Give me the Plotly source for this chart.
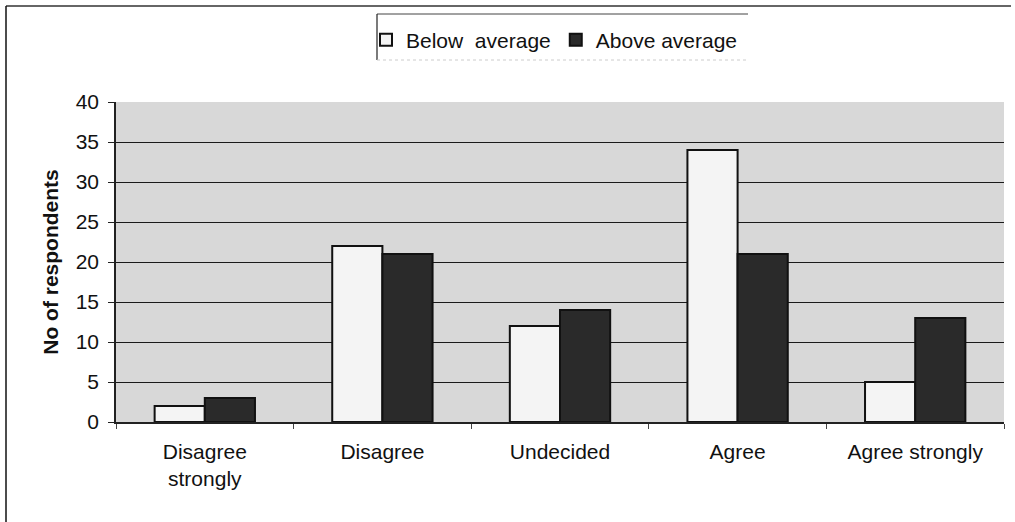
import plotly.graph_objects as go

# Survey responses grouped by attainment level
categories = ["Disagree<br>strongly", "Disagree", "Undecided", "Agree", "Agree strongly"]
below_average = [2, 22, 12, 34, 5]
above_average = [3, 21, 14, 21, 13]
y_ticks = [0, 5, 10, 15, 20, 25, 30, 35, 40]

FONT = "Liberation Sans, Arial, sans-serif"
FS = 21

fig = go.Figure()
fig.add_trace(go.Bar(
    x=categories, y=below_average, name="Below  average",
    marker=dict(color="#f4f4f4", line=dict(color="#111111", width=2)),
))
fig.add_trace(go.Bar(
    x=categories, y=above_average, name="Above average",
    marker=dict(color="#2a2a2a", line=dict(color="#111111", width=2)),
))

W, H = 1015, 522
L, R, T, B = 116, 11, 102, 100
pw, ph = W - L - R, H - T - B


def px(x):
    return (x - L) / pw


def py(y):
    return (H - B - y) / ph


shapes = [
    # outer frame (top and left edges)
    dict(type="line", xref="paper", yref="paper", x0=px(6), x1=px(1011), y0=py(6), y1=py(6),
         line=dict(color="#333333", width=1.5)),
    dict(type="line", xref="paper", yref="paper", x0=px(6), x1=px(6), y0=py(6), y1=py(522),
         line=dict(color="#111111", width=1.5)),
    # legend box
    dict(type="line", xref="paper", yref="paper", x0=px(377), x1=px(748), y0=py(14), y1=py(14),
         line=dict(color="#444444", width=1)),
    dict(type="line", xref="paper", yref="paper", x0=px(377), x1=px(377), y0=py(14), y1=py(60),
         line=dict(color="#222222", width=1.2)),
    dict(type="line", xref="paper", yref="paper", x0=px(377), x1=px(748), y0=py(60), y1=py(60),
         line=dict(color="#cccccc", width=1, dash="dot")),
]

fig.update_layout(
    width=W, height=H,
    margin=dict(l=L, r=R, t=T, b=B, pad=0),
    paper_bgcolor="white",
    plot_bgcolor="#d8d8d8",
    barmode="group",
    bargap=0.435,
    bargroupgap=0,
    font=dict(family=FONT, size=FS, color="#111111"),
    showlegend=True,
    legend=dict(
        orientation="h", x=px(366), y=py(40), xanchor="left", yanchor="middle",
        bgcolor="rgba(0,0,0,0)", borderwidth=0,
        font=dict(family=FONT, size=FS, color="#111111"),
        itemwidth=30, tracegroupgap=0,
    ),
    xaxis=dict(
        showgrid=False, showline=True, linecolor="#222222", linewidth=1.5,
        ticks="outside", ticklen=5, tickcolor="#444444", tickson="boundaries",
        ticklabelstandoff=10,
        tickfont=dict(family=FONT, size=FS, color="#111111"),
        range=[-0.5, 4.5],
    ),
    yaxis=dict(
        range=[0, 40], tickvals=y_ticks,
        showgrid=True, gridcolor="#1a1a1a", gridwidth=1,
        showline=True, linecolor="#222222", linewidth=1.5,
        ticks="outside", ticklen=6, tickcolor="#222222",
        ticklabelstandoff=5,
        tickfont=dict(family=FONT, size=FS, color="#111111"),
        title=dict(text="<b>No of respondents</b>", standoff=11,
                   font=dict(family=FONT, size=FS, color="#111111")),
        zeroline=False,
    ),
    shapes=shapes,
)

fig.write_html("out.html")
